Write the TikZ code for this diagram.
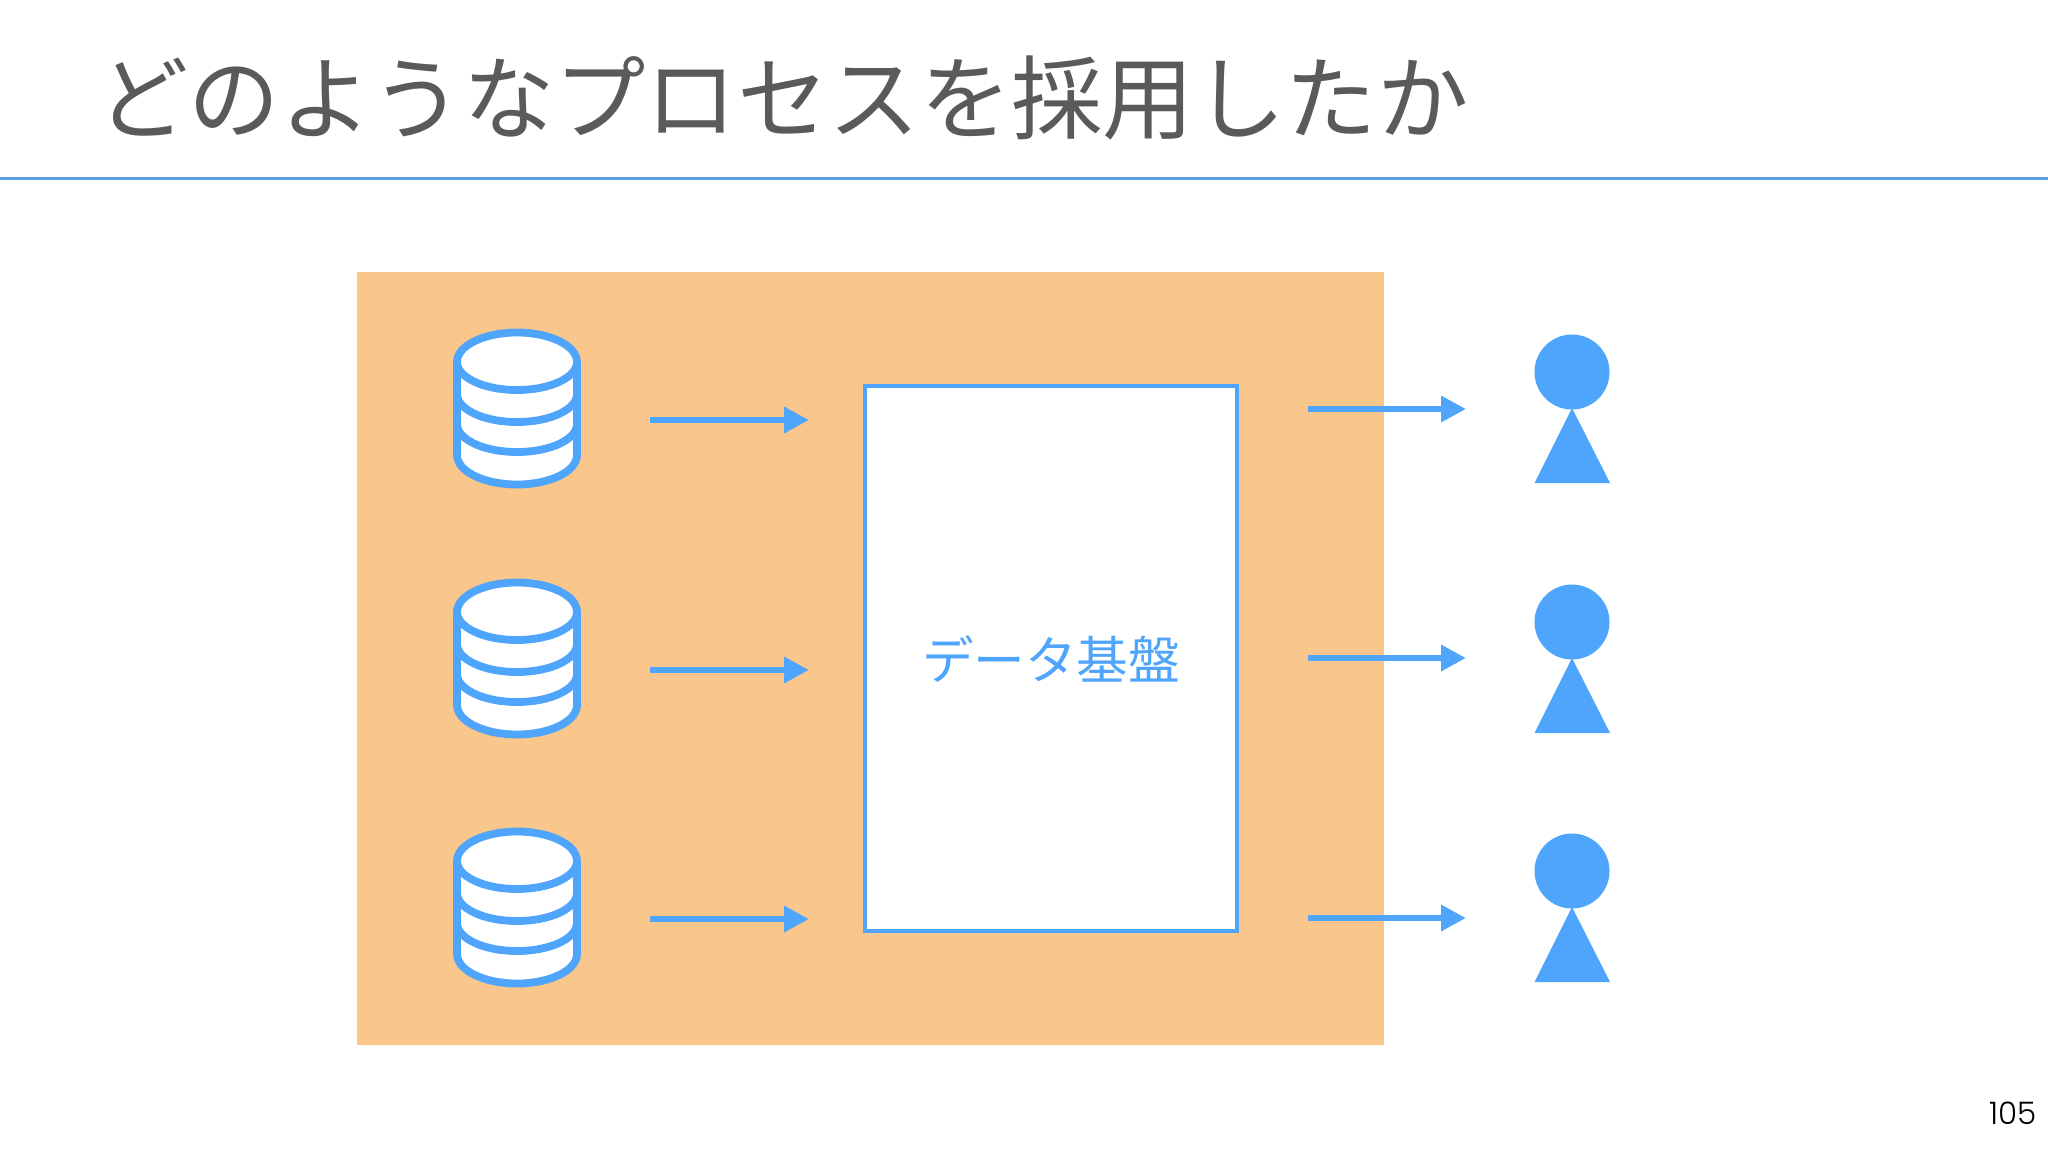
\documentclass[tikz,border=0pt]{standalone}
\usepackage{fontspec}
\setmainfont{Noto Sans}
\newfontfamily\jpfont{Noto Sans CJK JP}[Scale=1]
\newfontfamily\numfont{Poppins Light}
\usetikzlibrary{arrows.meta,calc}
\definecolor{accent}{HTML}{4FA5FB}
\definecolor{panel}{HTML}{F9C68B}
\definecolor{ink}{HTML}{5A5A5A}
\definecolor{rulecol}{HTML}{5B9FEA}
\tikzset{
  flow/.style={draw=accent,line width=3.2pt,-{Triangle[length=12.5pt,width=12.5pt,fill=accent]}},
  dbline/.style={draw=accent,line width=3.9pt},
  titletext/.style={text=ink,font=\fontsize{45.7}{50}\jpfont,anchor=west,inner sep=0pt},
  boxnode/.style={draw=accent,line width=2pt,fill=white,minimum width=186pt,minimum height=272.5pt,inner sep=0pt,text=accent,font=\fontsize{25.8}{28}\jpfont},
}
\begin{document}
\begin{tikzpicture}[x=0.5pt,y=-0.5pt]
\useasboundingbox (0,0) rectangle (2048,1152);
\fill[white] (0,0) rectangle (2048,1152);
\node[titletext] (title) at (97,98) {どのようなプロセスを採用したか};
\draw[rulecol,line width=1.5pt] (0,178) -- (2048,178);
\fill[panel] (357,272) rectangle (1384,1045);
\node[boxnode] (base) at (1051,658.5) {データ基盤};
\foreach \i/\dy in {1/0,2/250,3/499}{
  \begin{scope}[yshift=-0.5pt*\dy]
    \fill[white,draw=accent,line width=3.9pt] (457,362) -- (457,455) arc[start angle=180,end angle=0,x radius=60,y radius=29.5] -- (577,362) arc[start angle=0,end angle=-180,x radius=60,y radius=29.5] -- cycle;
    \draw[dbline] (457,362) arc[start angle=180,end angle=0,x radius=60,y radius=28];
    \draw[dbline] (457,394) arc[start angle=180,end angle=0,x radius=60,y radius=28];
    \draw[dbline] (457,424) arc[start angle=180,end angle=0,x radius=60,y radius=28];
    \coordinate (s\i) at (650,420);
    \coordinate (t\i) at (809,420);
  \end{scope}
  \draw[flow] (s\i) -- (t\i);
}
\foreach \i/\dy in {1/0,2/249,3/509}{
  \begin{scope}[yshift=-0.5pt*\dy]
    \coordinate (u\i) at (1308,409);
    \coordinate (v\i) at (1466,409);
  \end{scope}
  \draw[flow] (u\i) -- (v\i);
}
\foreach \i/\dy in {1/0,2/250,3/499}{
  \begin{scope}[yshift=-0.5pt*\dy]
    \node[circle,fill=accent,minimum size=37.5pt,inner sep=0pt] (head\i) at (1572,372) {};
    \fill[accent] (1572,408) -- (1610,483) -- (1534.5,483) -- cycle;
  \end{scope}
}
\node[text=black,font=\fontsize{15.5}{16}\numfont,anchor=east,inner sep=0pt] (page) at (2037,1113) {105};
\end{tikzpicture}
\end{document}
